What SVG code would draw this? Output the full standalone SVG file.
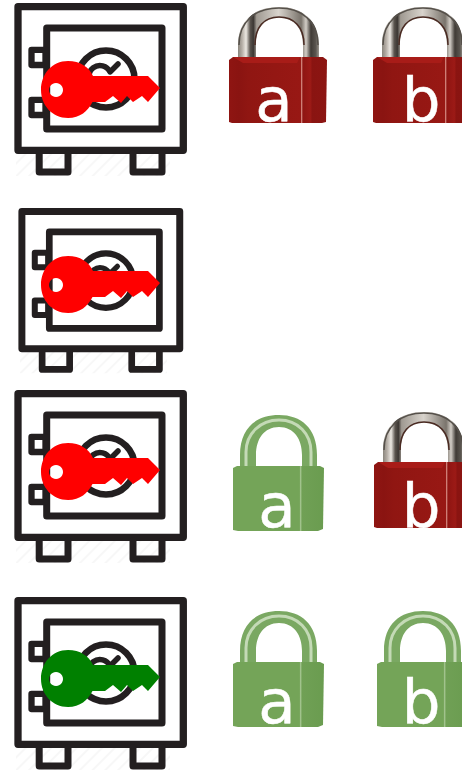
<svg xmlns="http://www.w3.org/2000/svg" width="462" height="770" viewBox="0 0 462 770">
<style>
.s{fill:none;stroke:#231f20;stroke-linejoin:round;stroke-linecap:round}
.lt{font-family:"DejaVu Sans",sans-serif;font-size:61px;fill:#fff;text-anchor:middle;stroke:#fff;stroke-width:.5}
</style>
<defs>
<pattern id="h" width="9" height="9" patternUnits="userSpaceOnUse" patternTransform="rotate(45)"><rect width="9" height="9" fill="#fff"/><rect width="2" height="9" fill="#f7f7f7"/></pattern>
<linearGradient id="sh" x1="0" x2="1" y1="0" y2="0">
<stop offset="0" stop-color="#8a857c"/><stop offset=".05" stop-color="#b5aea6"/><stop offset=".1" stop-color="#ece8e2"/><stop offset=".15" stop-color="#5a544e"/><stop offset=".19" stop-color="#3c3733"/><stop offset=".23" stop-color="#a09a92"/><stop offset=".5" stop-color="#d8d3cc"/><stop offset=".78" stop-color="#7a746c"/><stop offset=".84" stop-color="#d2cdc6"/><stop offset=".9" stop-color="#403b36"/><stop offset=".96" stop-color="#5a554f"/><stop offset="1" stop-color="#9a958d"/>
</linearGradient>
<linearGradient id="rb" x1="0" x2="1" y1="0" y2="0">
<stop offset="0" stop-color="#8f1512"/><stop offset=".1" stop-color="#8a1411"/><stop offset=".2" stop-color="#901612"/><stop offset=".73" stop-color="#981814"/><stop offset=".74" stop-color="#d08078"/><stop offset=".755" stop-color="#8f1512"/><stop offset=".83" stop-color="#9c1a16"/><stop offset=".85" stop-color="#8a1411"/><stop offset="1" stop-color="#8c1512"/>
</linearGradient>
<linearGradient id="gb" x1="0" x2="1" y1="0" y2="0">
<stop offset="0" stop-color="#74a458"/><stop offset=".73" stop-color="#74a458"/><stop offset=".74" stop-color="#a6c692"/><stop offset=".76" stop-color="#70a055"/><stop offset="1" stop-color="#6a9c50"/>
</linearGradient>
<g id="safe">
<rect x="16" y="150" width="154" height="26" fill="url(#h)"/>
<rect x="18" y="6.700" width="165.300" height="143.600" fill="url(#h)" class="s" stroke-width="7.300"/>
<rect x="46.700" y="28" width="115.300" height="101" class="s" stroke-width="7"/>
<rect x="31.500" y="49.800" width="14" height="15.200" class="s" stroke-width="6.300"/>
<rect x="31.500" y="99.800" width="14" height="15.200" class="s" stroke-width="6.300"/>
<path d="M39.200 154V172H68V154M133 154V172H162V154" class="s" stroke-width="7"/>
<circle cx="106" cy="79" r="28.500" class="s" stroke-width="6.500"/>
<path d="M93 85a11 11 0 1 1 17-13l8-8" class="s" stroke-width="5.500"/>
</g>
<path id="key" d="M68 61C80 61 89 67 93 76H148L160 88 148 102 142 96 133 102 127 96 121 103 113 96 105 102H92.500C88 111 80 118 68 118 52 118 41 105 41 90 41 74 52 61 68 61ZM56 83a7 7 0 1 0 .01 0Z" fill-rule="evenodd"/>
<g id="redlock">
<path d="M238 58V45C238 20 255 7 279 7 302 7 319 20 319 45V58H303V45C303 28 294 18 279 18 264 18 256 28 256 45V58Z" fill="url(#sh)"/>
<path d="M239 45C239 21 256 8 279 8 301 8 318 21 318 45" fill="none" stroke="#55504a" stroke-width="1.500"/>
<path d="M255 45C255 27 264 17 279 17 294 17 304 27 304 45" fill="none" stroke="#4a2a22" stroke-width="1.500"/>
<path d="M229 60 233 57H323L327 60 326 122 322 123H232L229 122Z" fill="url(#rb)"/>
<path d="M233 57H300L297 63H243Z" fill="#a81c18"/>
</g>
<g id="greenlock">
<path d="M240 467V455C240 428 256 415 279 415 301 415 317 428 317 455V467H302V455C302 439 294 427 279 427 264 427 256 439 256 455V467Z" fill="#7aa862"/>
<path d="M246 466V452C246 434 260 420 279 420 298 420 311 434 311 452V466" fill="none" stroke="#c4dab6" stroke-width="3"/>
<path d="M233 468 237 466H320L324 468 323 529 318 531H238L233 530Z" fill="url(#gb)"/>
</g>
</defs>
<g id="row1">
<g id="safe1"><use href="#safe"/><use href="#key" fill="#f00"/></g>
<g id="lock1a"><use href="#redlock"/><text class="lt" x="274" y="121">a</text></g>
<g id="lock1b"><use href="#redlock" x="144"/><text class="lt" x="421" y="121">b</text></g>
</g>
<g id="row2">
<g id="safe2"><g transform="translate(4.700 205.200) scale(.955)"><use href="#safe"/></g><use href="#key" y="195" fill="#f00"/></g>
</g>
<g id="row3">
<g id="safe3"><use href="#safe" y="387"/><use href="#key" y="382" fill="#f00"/></g>
<g id="lock3a"><use href="#greenlock"/><text class="lt" x="277" y="527">a</text></g>
<g id="lock3b"><use href="#redlock" x="145" y="405"/><text class="lt" x="421" y="527">b</text></g>
</g>
<g id="row4">
<g id="safe4"><use href="#safe" y="594"/><use href="#key" y="589" fill="#008000"/></g>
<g id="lock4a"><use href="#greenlock" y="196"/><text class="lt" x="277" y="723">a</text></g>
<g id="lock4b"><use href="#greenlock" x="144" y="196"/><text class="lt" x="421" y="723">b</text></g>
</g>
</svg>
